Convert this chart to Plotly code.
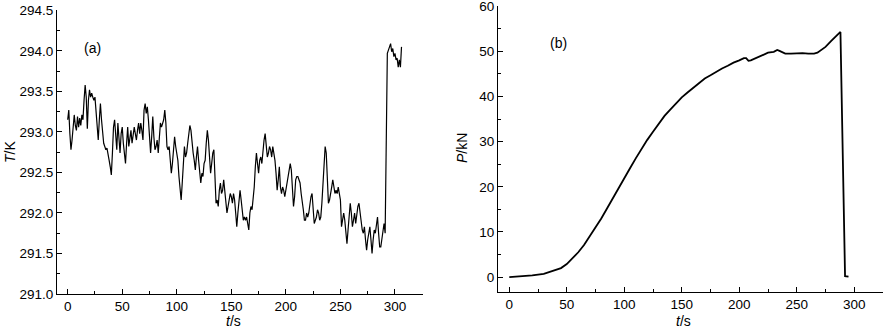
import plotly.graph_objects as go

# ---- panel (a): temperature vs time (1 s steps) ----
t_temp = list(range(0, 307))
temp_K = [
    293.15, 293.27, 292.98, 292.78, 292.90, 293.11, 293.21, 293.08, 293.02, 293.19,
    293.06, 293.17, 293.08, 293.21, 293.15, 293.39, 293.58, 293.43, 293.04, 293.39,
    293.52, 293.43, 293.48, 293.43, 293.39, 293.43, 293.27, 293.02, 292.90, 293.15,
    293.35, 293.15, 292.98, 292.86, 292.82, 292.78, 292.80, 292.69, 292.65, 292.57,
    292.47, 292.74, 293.06, 293.15, 292.90, 292.78, 293.11, 292.94, 292.74, 292.98,
    293.06, 292.86, 292.69, 292.61, 292.86, 293.06, 292.82, 292.90, 293.02, 292.86,
    292.94, 293.06, 292.98, 292.90, 293.02, 293.11, 292.98, 293.11, 293.02, 292.90,
    293.27, 293.35, 293.23, 293.31, 293.15, 292.90, 292.74, 292.94, 293.19, 292.94,
    292.78, 292.82, 292.90, 292.74, 292.98, 293.11, 293.06, 293.11, 293.15, 293.27,
    293.11, 292.82, 292.78, 292.82, 292.65, 292.49, 292.61, 292.86, 292.94, 292.82,
    292.74, 292.65, 292.45, 292.24, 292.16, 292.37, 292.65, 292.82, 292.69, 292.74,
    292.86, 292.98, 293.08, 293.02, 292.86, 292.74, 292.65, 292.53, 292.69, 292.82,
    292.65, 292.45, 292.37, 292.49, 292.45, 292.61, 292.65, 292.86, 293.02, 292.90,
    292.65, 292.49, 292.61, 292.74, 292.78, 292.41, 292.12, 292.16, 292.08, 292.28,
    292.37, 292.24, 292.28, 292.41, 292.24, 292.16, 292.00, 292.08, 292.16, 292.24,
    292.20, 292.12, 292.24, 292.16, 292.00, 291.83, 292.00, 292.16, 292.28, 292.16,
    292.00, 291.91, 291.95, 291.91, 291.95, 291.83, 291.79, 292.00, 292.08, 292.04,
    292.16, 292.32, 292.57, 292.74, 292.61, 292.49, 292.65, 292.69, 292.61, 292.78,
    292.90, 292.98, 292.86, 292.69, 292.74, 292.82, 292.78, 292.69, 292.82, 292.74,
    292.65, 292.49, 292.28, 292.41, 292.57, 292.32, 292.24, 292.32, 292.28, 292.20,
    292.28, 292.37, 292.41, 292.53, 292.61, 292.53, 292.24, 292.08, 292.20, 292.41,
    292.45, 292.45, 292.41, 292.37, 292.24, 292.16, 292.04, 291.91, 291.91, 292.00,
    291.95, 292.00, 292.12, 292.20, 292.24, 292.08, 291.87, 291.91, 291.95, 292.04,
    292.00, 291.91, 291.95, 292.12, 292.32, 292.65, 292.82, 292.74, 292.37, 292.12,
    292.16, 292.28, 292.32, 292.41, 292.32, 292.24, 292.28, 292.24, 292.32, 292.24,
    292.16, 291.83, 291.91, 292.00, 291.91, 291.75, 291.62, 291.79, 291.95, 292.12,
    292.00, 291.83, 291.91, 292.00, 291.87, 292.00, 292.08, 292.12, 292.00, 291.91,
    291.79, 291.75, 291.83, 291.67, 291.54, 291.67, 291.79, 291.83, 291.67, 291.50,
    291.67, 291.79, 291.75, 291.87, 291.95, 291.75, 291.58, 291.58, 291.67, 291.79,
    291.87, 291.75, 292.98, 293.97, 294.01, 294.07, 294.09, 293.99, 294.03, 293.93,
    293.97, 293.89, 293.91, 293.80, 293.89, 293.80, 294.05,
]

# ---- panel (b): load vs time ----
t_load = [0, 10, 20, 30, 40, 45, 50, 55, 60, 65, 70, 75, 80, 85, 90, 95, 100,
          105, 110, 115, 120, 125, 130, 135, 140, 145, 150, 155, 160, 165, 170,
          175, 180, 185, 190, 195, 200, 204, 206, 208, 210, 215, 220, 225, 230,
          233, 235, 240, 245, 250, 253, 255, 260, 265, 268, 270, 275, 280, 285,
          288, 292, 295]
load_kN = [0.0, 0.15, 0.4, 0.7, 1.5, 2.0, 2.9, 4.2, 5.5, 7.1, 9.0, 11.0, 13.0,
           15.2, 17.5, 19.7, 21.9, 24.1, 26.3, 28.4, 30.4, 32.2, 34.0, 35.7,
           37.1, 38.5, 39.8, 40.9, 42.0, 43.0, 44.0, 44.7, 45.5, 46.2, 46.8,
           47.5, 48.0, 48.5, 48.5, 47.9, 48.0, 48.6, 49.2, 49.7, 49.9, 50.3,
           50.1, 49.5, 49.5, 49.6, 49.7, 49.6, 49.5, 49.5, 49.7, 50.1, 51.0,
           52.3, 53.6, 54.3, 0.2, 0.1]

W, H = 884, 328
FONT = "Liberation Sans, Arial, sans-serif"

fig = go.Figure()
fig.add_trace(go.Scatter(x=t_temp, y=temp_K, mode="lines",
                         line=dict(color="black", width=1.2),
                         xaxis="x", yaxis="y", showlegend=False))
fig.add_trace(go.Scatter(x=t_load, y=load_kN, mode="lines",
                         line=dict(color="black", width=1.8),
                         xaxis="x2", yaxis="y2", showlegend=False))

def px_x(p):
    return p / W

def px_y(p):
    return 1 - p / H

axis_common = dict(showline=True, linecolor="black", linewidth=1, ticks="inside",
                   ticklen=5, tickwidth=1, tickcolor="black", showgrid=False,
                   zeroline=False, automargin=False, ticklabeloverflow="allow",
                   tickfont=dict(family=FONT, size=13.5, color="black"))
minor_common = dict(ticks="inside", ticklen=3, tickcolor="black", showgrid=False)

fig.update_layout(
    width=W, height=H, template="none",
    margin=dict(l=0, r=0, t=0, b=0),
    paper_bgcolor="white", plot_bgcolor="white",
    xaxis=dict(domain=[px_x(57), px_x(423)], range=[-9.8, 325.7],
               tickmode="linear", tick0=0, dtick=50, anchor="y",
               minor=dict(dtick=25, **minor_common), **axis_common),
    yaxis=dict(domain=[px_y(294), px_y(10)], range=[291.0, 294.505],
               tickmode="linear", tick0=291.0, dtick=0.5, tickformat=".1f", anchor="x",
               minor=dict(dtick=0.25, **minor_common), **axis_common),
    xaxis2=dict(domain=[px_x(498), px_x(883)], range=[-9.8, 325],
                tickmode="linear", tick0=0, dtick=50, anchor="y2",
                minor=dict(dtick=25, **minor_common), **axis_common),
    yaxis2=dict(domain=[px_y(292), px_y(6)], range=[-3.3, 60.05],
                tickmode="linear", tick0=0, dtick=10, anchor="x2",
                minor=dict(dtick=5, **minor_common), **axis_common),
)

def ann(text, x, y, angle=0):
    fig.add_annotation(text=text, xref="paper", yref="paper",
                       x=px_x(x), y=px_y(y), showarrow=False, textangle=angle,
                       xanchor="center", yanchor="middle",
                       font=dict(family=FONT, size=14, color="black"))

ann("<i>T</i>/K", 10, 152, -90)
ann("<i>t</i>/s", 233, 321)
ann("(a)", 92, 48)
ann("<i>P</i>/kN", 462, 148, -90)
ann("<i>t</i>/s", 683, 321)
ann("(b)", 558, 43)

fig.write_html("out.html")
